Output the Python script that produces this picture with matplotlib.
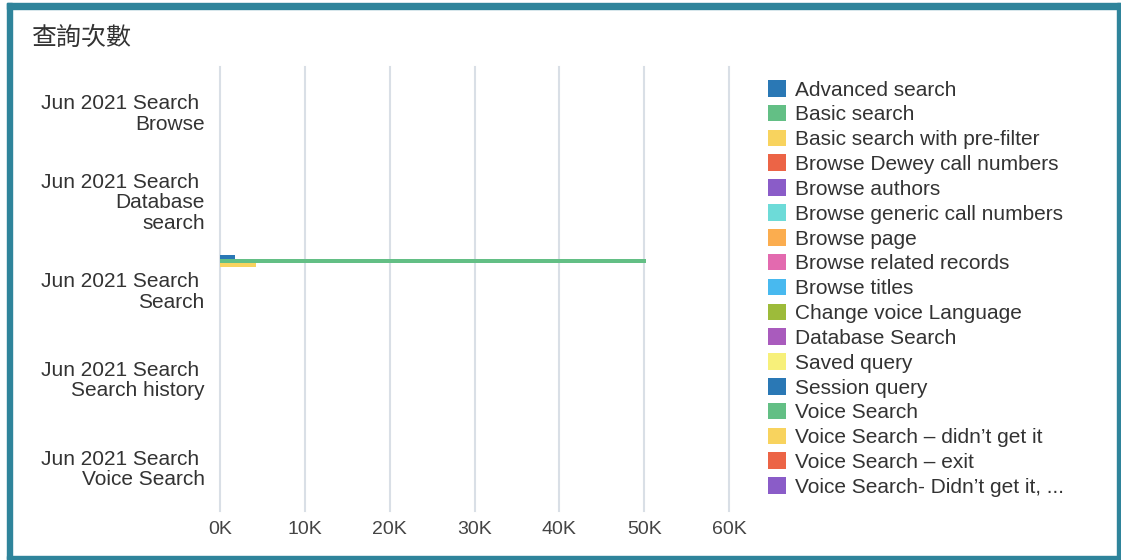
import numpy as np
import matplotlib.pyplot as plt
from matplotlib.patches import Rectangle

plt.rcParams['font.family'] = ['Liberation Sans', 'DejaVu Sans']

# chart data
categories = ['Jun 2021 Search \nBrowse', 'Jun 2021 Search \nDatabase\nsearch',
              'Jun 2021 Search \nSearch', 'Jun 2021 Search \nSearch history',
              'Jun 2021 Search \nVoice Search']
series = ['Advanced search', 'Basic search', 'Basic search with pre-filter',
          'Browse Dewey call numbers', 'Browse authors', 'Browse generic call numbers',
          'Browse page', 'Browse related records', 'Browse titles',
          'Change voice Language', 'Database Search', 'Saved query', 'Session query',
          'Voice Search', 'Voice Search \u2013 didn\u2019t get it', 'Voice Search \u2013 exit',
          'Voice Search- Didn\u2019t get it, ...']
colors = ['#2a78b5', '#63bf85', '#f8d35e', '#ec6446', '#8a5cc8', '#6ddbd8',
          '#fbad4f', '#e36aaf', '#48b9ef', '#9dbb3a', '#a95bbd', '#f7f07a',
          '#2a78b5', '#63bf85', '#f8d35e', '#ec6446', '#8a5cc8']
# values per series, one entry per category (Browse, Database search, Search, Search history, Voice Search)
advanced_search = [0, 0, 1780, 0, 0]
basic_search = [0, 0, 50200, 0, 0]
basic_prefilter = [0, 0, 4240, 0, 0]
zeros = [0, 0, 0, 0, 0]
values = [advanced_search, basic_search, basic_prefilter] + [zeros] * 14
xticks = [0, 10000, 20000, 30000, 40000, 50000, 60000]
xticklabels = ['0K', '10K', '20K', '30K', '40K', '50K', '60K']

W, H = 1121, 560
fig = plt.figure(figsize=(W / 100, H / 100), dpi=100)

# panel border
border = '#2f849b'
fig.patches.append(Rectangle((7 / W, 0), 5 / W, 1 - 3 / H, transform=fig.transFigure, color=border, zorder=0))
fig.patches.append(Rectangle((7 / W, 1 - 9 / H), 1 - 7 / W, 6 / H, transform=fig.transFigure, color=border, zorder=0))
fig.patches.append(Rectangle((1117 / W, 0), 3 / W, 1 - 3 / H, transform=fig.transFigure, color=border, zorder=0))
fig.patches.append(Rectangle((7 / W, 1 / H), 1 - 7 / W, 3 / H, transform=fig.transFigure, color=border, zorder=0))

fig.text(32 / W, 1 - 38 / H, '查詢次數', fontsize=18, color='#333333', va='center',
         family=['Noto Sans CJK TC', 'DejaVu Sans'])

ax = fig.add_axes([220 / W, (H - 511) / H, 509 / W, (511 - 67) / H])
n = len(series)
bh = 0.76 / n
y = np.arange(len(categories))
for i, (name, vals, c) in enumerate(zip(series, values, colors)):
    ax.barh(y + (i - (n - 1) / 2) * bh, vals, height=bh, color=c, label=name, zorder=3)

ax.set_xlim(0, 60000)
ax.set_ylim(-0.5, len(categories) - 0.5)
ax.invert_yaxis()
ax.set_xticks(xticks)
ax.set_xticklabels(xticklabels)
ax.set_yticks(y)
ax.set_yticklabels(categories, ha='right', multialignment='right', linespacing=1.1)
ax.tick_params(axis='x', length=0, pad=7, labelsize=14, labelcolor='#444444')
ax.tick_params(axis='y', length=0, pad=11, labelsize=15, labelcolor='#333333')
ax.grid(axis='x', color='#d9dfe6', linewidth=1.5, zorder=0)
for gl in ax.get_xgridlines():
    gl.set_clip_on(False)
for s in ax.spines.values():
    s.set_visible(False)

handles, labels = ax.get_legend_handles_labels()
fig.legend(handles, labels, loc='upper left', bbox_to_anchor=(768 / W, 1 - 80 / H),
           frameon=False, fontsize=15, handlelength=0.87, handleheight=0.85,
           handletextpad=0.43, labelspacing=0.255, borderpad=0, borderaxespad=0,
           labelcolor='#333333')

fig.savefig('out.png', dpi=100)
